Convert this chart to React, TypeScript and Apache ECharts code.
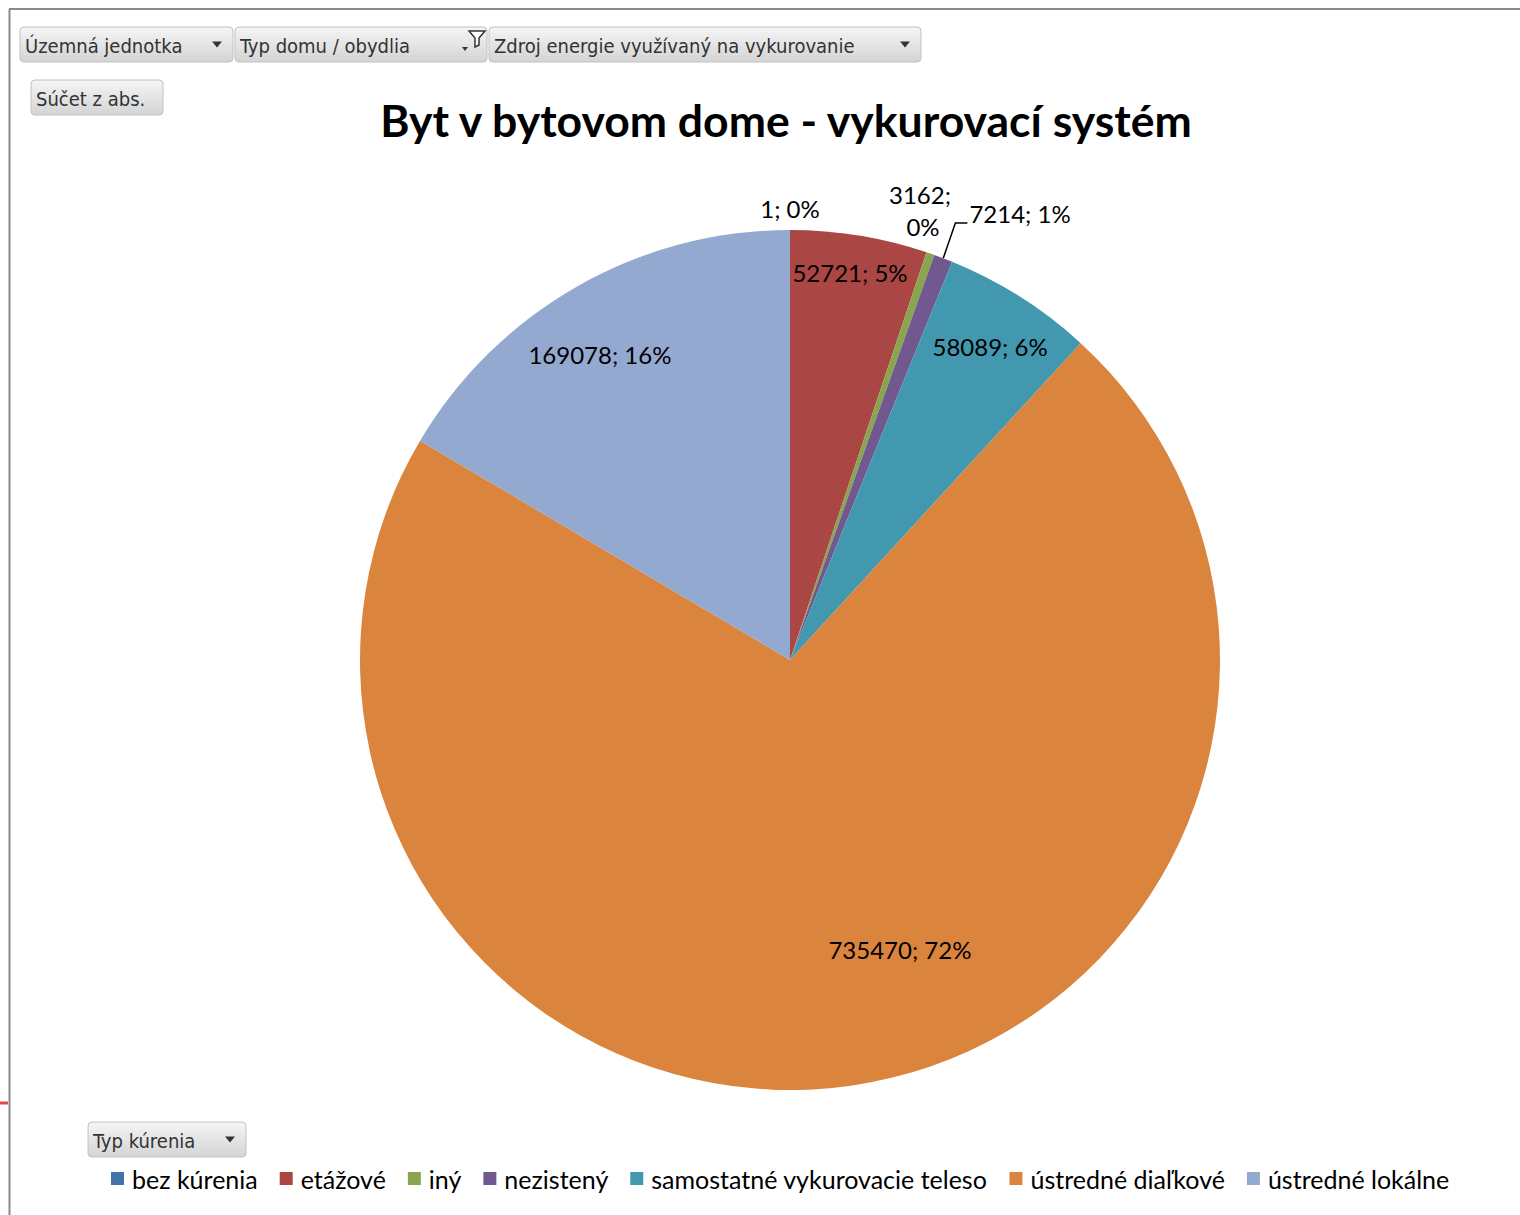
import React, { useEffect, useRef } from "react";
import * as echarts from "echarts";

const categories = [
  "bez kúrenia",
  "etážové",
  "iný",
  "nezistený",
  "samostatné vykurovacie teleso",
  "ústredné diaľkové",
  "ústredné lokálne",
];
const values = [1, 52721, 3162, 7214, 58089, 735470, 169078];
const colors = ["#4572A7", "#AA4643", "#89A54E", "#71588F", "#4198AF", "#DB843D", "#93A9CF"];
const titleText = "Byt v bytovom dome - vykurovací systém";
const filterButtons = ["Územná jednotka", "Typ domu / obydlia", "Zdroj energie využívaný na vykurovanie"];
const valueButton = "Súčet z abs.";
const axisButton = "Typ kúrenia";

// label placement: [angle in degrees clockwise from top, radius fraction]
const labelPlacement = [
  [0, 1.051],
  [8.81, 0.911],
  [16.47, 1.091],
  [27.23, 1.169],
  [32.58, 0.864],
  [159.23, 0.721],
  [328.08, 0.836],
];

const CX = 790;
const CY = 660;
const R = 430;
const LABEL_FONT = "Lato, 'Open Sans', sans-serif";
const BTN_FONT = "'DejaVu Sans Condensed', 'Liberation Sans Narrow', sans-serif";

function button(x: number, y: number, w: number, h: number, label: string, arrowX: number | null, funnel = false) {
  const children: any[] = [
    {
      type: "rect",
      shape: { x, y, width: w, height: h, r: 4 },
      style: {
        fill: {
          type: "linear",
          x: 0,
          y: 0,
          x2: 0,
          y2: 1,
          colorStops: [
            { offset: 0, color: "#f5f5f5" },
            { offset: 1, color: "#d4d4d4" },
          ],
        },
        stroke: "#c2c2c2",
        lineWidth: 1,
      },
    },
    {
      type: "text",
      style: {
        x: x + 5,
        y: y + h / 2 + 1,
        text: label,
        fontFamily: BTN_FONT,
        fontSize: 20,
        fill: "#333",
        verticalAlign: "middle",
      },
    },
  ];
  if (arrowX != null) {
    const cy = y + h / 2;
    children.push({
      type: "polygon",
      shape: { points: [[arrowX - 5, cy - 3], [arrowX + 5, cy - 3], [arrowX, cy + 3]] },
      style: { fill: "#333" },
    });
  }
  if (funnel) {
    const fx = x + w - 18;
    children.push({
      type: "polygon",
      shape: { points: [[fx, y + 4], [fx + 16, y + 4], [fx + 10, y + 11], [fx + 10, y + 18], [fx + 6, y + 20], [fx + 6, y + 11]] },
      style: { fill: "#fff", stroke: "#333", lineWidth: 1.5 },
    });
    children.push({
      type: "polygon",
      shape: { points: [[fx - 7, y + 20], [fx - 1, y + 20], [fx - 4, y + 24]] },
      style: { fill: "#333" },
    });
  }
  return { type: "group", children };
}

export default function App() {
  const ref = useRef<HTMLDivElement>(null);
  useEffect(() => {
    if (!ref.current) return;
    const chart = echarts.init(ref.current, null, { renderer: "svg" });
    const total = values.reduce((a, b) => a + b, 0);
    const midAngles: number[] = [];
    let acc = 0;
    values.forEach((v) => {
      midAngles.push(((acc + v / 2) / total) * 360);
      acc += v;
    });

    const data = categories.map((name, i) => {
      const item: any = { name, value: values[i], itemStyle: { color: colors[i] } };
      if (i === 2) item.label = { width: 70, overflow: "break" };
      if (i === 3) item.labelLine = { show: true };
      return item;
    });

    chart.setOption({
      animation: false,
      backgroundColor: "#fff",
      title: {
        text: titleText,
        left: 781,
        top: 92,
        textAlign: "center",
        textStyle: { fontFamily: LABEL_FONT, fontSize: 44.5, fontWeight: "bold", color: "#000" },
      },
      legend: {
        left: 106,
        top: 1161,
        itemWidth: 13,
        itemHeight: 13,
        itemGap: 22,
        icon: "rect",
        data: categories,
        textStyle: { fontFamily: LABEL_FONT, fontSize: 25, color: "#000", padding: [0, 0, 0, 3] },
      },
      series: [
        {
          type: "pie",
          center: [CX, CY],
          radius: [0, R],
          startAngle: 90,
          clockwise: true,
          avoidLabelOverlap: false,
          data,
          itemStyle: { borderWidth: 0 },
          label: {
            show: true,
            position: "outside",
            color: "#000",
            fontFamily: LABEL_FONT,
            fontSize: 24,
            lineHeight: 32,
            align: "center",
            formatter: (p: any) => `${p.value}; ${Math.round(p.percent)}%`,
          },
          labelLine: { show: false, lineStyle: { color: "#000", width: 1.5 } },
          emphasis: { disabled: true },
          labelLayout: (p: any) => {
            const [ang, f] = labelPlacement[p.dataIndex];
            const a = (ang * Math.PI) / 180;
            const x = CX + f * R * Math.sin(a);
            const y = CY - f * R * Math.cos(a);
            const res: any = { x, y, align: "center", verticalAlign: "middle" };
            if (p.dataIndex === 3) {
              const m = (midAngles[3] * Math.PI) / 180;
              const left = x - p.labelRect.width / 2;
              res.labelLinePoints = [
                [CX + R * Math.sin(m), CY - R * Math.cos(m)],
                [left - 14, y + 10],
                [left - 2, y + 10],
              ];
            }
            return res;
          },
        },
      ],
      graphic: [
        { type: "line", shape: { x1: 9, y1: 9, x2: 1520, y2: 9 }, style: { stroke: "#8a8a8a", lineWidth: 2 } },
        { type: "line", shape: { x1: 9.5, y1: 9, x2: 9.5, y2: 1215 }, style: { stroke: "#8a8a8a", lineWidth: 2 } },
        { type: "line", shape: { x1: 0, y1: 1103, x2: 8, y2: 1103 }, style: { stroke: "#e04848", lineWidth: 3 } },
        button(20, 27, 213, 35, filterButtons[0], 217),
        button(235, 27, 252, 35, filterButtons[1], null, true),
        button(489, 27, 432, 35, filterButtons[2], 905),
        button(31, 80, 132, 35, valueButton, null),
        button(88, 1122, 158, 35, axisButton, 230),
      ],
    });
    return () => chart.dispose();
  }, []);
  return <div ref={ref} style={{ position: "absolute", left: 0, top: 0, width: 1520, height: 1215 }} />;
}
